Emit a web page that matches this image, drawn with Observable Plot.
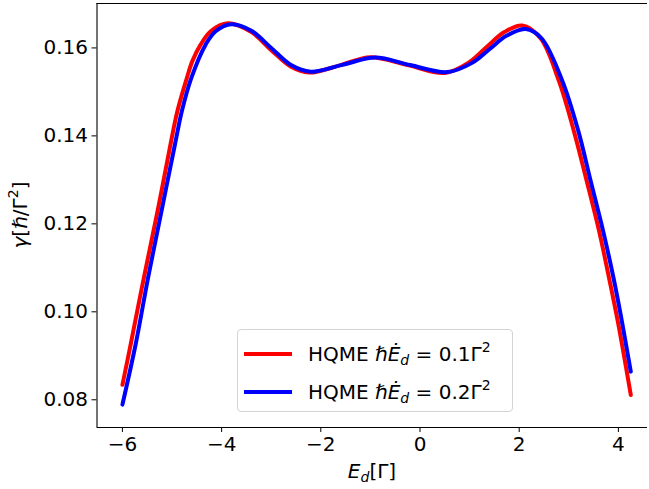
<!DOCTYPE html>
<html>
<head>
<meta charset="utf-8">
<script src="https://cdn.jsdelivr.net/npm/d3@7"></script>
<script src="https://cdn.jsdelivr.net/npm/@observablehq/plot@0.6"></script>
<style>
  html, body { margin: 0; padding: 0; background: white; overflow: hidden; }
  #wrap { position: relative; width: 649px; height: 489px; font-family: "DejaVu Sans", sans-serif; }
  #legend { position: absolute; left: 237px; top: 329px; width: 276px; height: 83px;
    border: 1px solid #d4d4d4; border-radius: 4px; background: rgba(255,255,255,0.8);
    box-sizing: border-box; font-size: 20px; color: #000; }
  .row { position: absolute; left: 0; height: 30px; width: 100%; }
  .sw { position: absolute; left: 6px; width: 48px; height: 4px; top: 13px; }
  .lt { position: absolute; left: 70px; top: 0px; line-height: 30px; white-space: nowrap; }
  .lt i { font-style: italic; }
  .lt sub { font-size: 14px; vertical-align: -4px; line-height: 0; font-style: italic; }
  .lt sup { font-size: 14px; vertical-align: 9px; line-height: 0; }
</style>
</head>
<body>
<div id="wrap"></div>
<script>
// Series 1: HQME ħĖd = 0.1Γ² (red)
const redE = [-6.0, -5.83, -5.565, -5.29, -5.03, -4.89, -4.70, -4.59, -4.42, -4.22, -3.88, -3.4, -3.0, -2.6, -2.24, -1.6, -1.0, -0.25, 0.5, 1.0, 1.36, 1.7, 2.06, 2.43, 2.8, 3.1, 3.36, 3.61, 3.81, 3.99, 4.25];
const redV = [0.0834, 0.0928, 0.1079, 0.1230, 0.1381, 0.1457, 0.1532, 0.1570, 0.1608, 0.1638, 0.1656, 0.1636, 0.1595, 0.1557, 0.1544, 0.1561, 0.1579, 0.1561, 0.1543, 0.1568, 0.1604, 0.1636, 0.1651, 0.1622, 0.1525, 0.1412, 0.1298, 0.1184, 0.1078, 0.0977, 0.0811];
// Series 2: HQME ħĖd = 0.2Γ² (blue)
const blueE = [-6.0, -5.73, -5.48, -5.21, -4.94, -4.80, -4.61, -4.32, -4.12, -3.80, -3.4, -3.0, -2.6, -2.2, -1.55, -0.9, -0.2, 0.55, 1.05, 1.4, 1.75, 2.13, 2.45, 2.87, 3.19, 3.44, 3.70, 3.90, 4.06, 4.25];
const blueV = [0.0789, 0.0928, 0.1079, 0.1230, 0.1381, 0.1457, 0.1532, 0.1608, 0.1638, 0.1654, 0.1639, 0.1600, 0.1561, 0.1546, 0.1562, 0.1578, 0.1561, 0.1545, 0.1566, 0.1597, 0.1628, 0.1643, 0.1622, 0.1525, 0.1412, 0.1298, 0.1180, 0.1078, 0.0985, 0.0864];
const xTicks = [-6, -4, -2, 0, 2, 4];
const yTicks = [0.08, 0.10, 0.12, 0.14, 0.16];
const seriesNames = ["0.1", "0.2"];
const colors = ["#ff0000", "#0000ff"];

const red = redE.map((e, i) => ({E: e, v: redV[i]}));
const blue = blueE.map((e, i) => ({E: e, v: blueV[i]}));

const xDom = [-6.5125, 4.587];
const yDom = [0.0737, 0.1701];

const chart = Plot.plot({
  width: 649, height: 489,
  marginLeft: 96.5, marginRight: 2, marginTop: 3, marginBottom: 62,
  style: {fontFamily: "DejaVu Sans", fontSize: "20px", background: "white", color: "black"},
  x: {domain: xDom, label: null},
  y: {domain: yDom, label: null},
  marks: [
    Plot.axisX({ticks: xTicks, tickSize: 5, tickPadding: 4, fontSize: 20, label: null, stroke: "black", strokeWidth: 1, tickFormat: d3.format("d")}),
    Plot.axisY({ticks: yTicks, tickSize: 5, tickPadding: 4, fontSize: 20, label: null, stroke: "black", strokeWidth: 1, tickFormat: d3.format(".2f")}),
    Plot.line(red, {x: "E", y: "v", stroke: colors[0], strokeWidth: 4, curve: "catmull-rom"}),
    Plot.line(blue, {x: "E", y: "v", stroke: colors[1], strokeWidth: 4, curve: "catmull-rom"}),
    Plot.ruleY([yDom[0], yDom[1]], {x1: xDom[0], x2: xDom[1], stroke: "black", strokeWidth: 1.1}),
    Plot.ruleX([xDom[0]], {y1: yDom[0], y2: yDom[1], stroke: "black", strokeWidth: 1.1})
  ]
});

const wrap = document.getElementById("wrap");
wrap.appendChild(chart);

// Axis labels
const svg = d3.select(chart);
const xl = svg.append("text").attr("x", 372).attr("y", 478).attr("text-anchor", "middle")
  .attr("font-family", "DejaVu Sans").attr("font-size", 20).attr("fill", "black");
xl.append("tspan").attr("font-style", "italic").text("E");
xl.append("tspan").attr("font-style", "italic").attr("font-size", 14).attr("dy", 4).text("d");
xl.append("tspan").attr("dy", -4).text("[Γ]");

const yl = svg.append("text").attr("transform", "translate(27,215) rotate(-90)").attr("text-anchor", "middle")
  .attr("font-family", "DejaVu Sans").attr("font-size", 20).attr("fill", "black");
yl.append("tspan").attr("font-style", "italic").text("γ");
yl.append("tspan").text("[");
yl.append("tspan").attr("font-style", "italic").text("ℏ");
yl.append("tspan").text("/Γ");
yl.append("tspan").attr("font-size", 14).attr("dy", -9).text("2");
yl.append("tspan").attr("dy", 9).text("]");

// Legend
const leg = document.createElement("div");
leg.id = "legend";
seriesNames.forEach((s, i) => {
  const row = document.createElement("div");
  row.className = "row";
  row.style.top = (9 + i * 38) + "px";
  row.innerHTML = `<div class="sw" style="background:${colors[i]}"></div>` +
    `<div class="lt">HQME <i>ℏ</i><i>E\u0307</i><sub>d</sub> = ${s}Γ<sup>2</sup></div>`;
  leg.appendChild(row);
});
wrap.appendChild(leg);
</script>
</body>
</html>
